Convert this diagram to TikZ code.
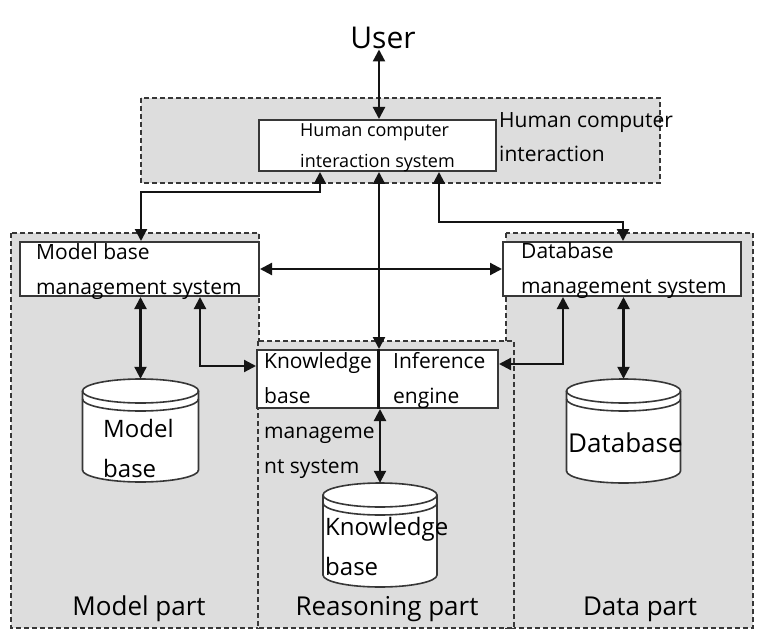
\documentclass[tikz,border=0pt]{standalone}
\usepackage{fontspec}
\setmainfont{Open Sans}
\usetikzlibrary{arrows.meta,calc}
\definecolor{regfill}{RGB}{221,221,221}
\definecolor{dashc}{RGB}{55,55,55}
\definecolor{linec}{RGB}{20,20,20}
\newcommand\fs[1]{\fontsize{#1}{#1}\selectfont}
\newcommand\drawcyl[4]{%
 \fill[white] ({#1-#4},{-#2}) -- ({#1-#4},{-#3}) arc[start angle=180,end angle=360,x radius=#4,y radius=12] -- ({#1+#4},{-#2}) arc[start angle=0,end angle=180,x radius=#4,y radius=12] -- cycle;
 \draw[cylline] (#1,{-#2}) ellipse[x radius=#4,y radius=12];
 \draw[cylline] ({#1-#4},{-#2}) -- ({#1-#4},{-#3}) arc[start angle=180,end angle=360,x radius=#4,y radius=12] -- ({#1+#4},{-#2});
 \draw[cylline] ({#1-#4},{-#2-8}) arc[start angle=180,end angle=360,x radius=#4,y radius=12];
}
\begin{document}
\begin{tikzpicture}[x=1pt,y=1pt,
  region/.style={fill=regfill, draw=dashc, line width=1.6pt, dash pattern=on 5pt off 3pt},
  box/.style={draw=linec!85, fill=white, line width=2pt, inner sep=0pt},
  cylline/.style={draw=linec!85, line width=1.6pt},
  cylnode/.style={inner sep=0pt, minimum height=104pt},
  lbl/.style={anchor=base west, inner sep=0pt, text=black},
  arr/.style={line width=2.2pt, draw=linec, {Triangle[width=12pt,length=12pt]}-{Triangle[width=12pt,length=12pt]}}]
\useasboundingbox (0,0) rectangle (768,-639);
\fill[white] (0,0) rectangle (768,-639);

% regions
\draw[region] (141,-98) rectangle (660,-183);
\draw[region] (506,-233) rectangle (753,-628);
\draw[region] (11,-233) rectangle (259,-628);
\draw[region] (258,-341) rectangle (514,-628);

% boxes
\node[box, minimum width=237pt, minimum height=51pt] (hci) at (377.5,-145.5) {};
\node[box, minimum width=239pt, minimum height=54pt] (mbms) at (139.5,-269) {};
\node[box, minimum width=238pt, minimum height=54pt] (dbms) at (622,-269) {};
\node[box, minimum width=241pt, minimum height=58pt] (kie) at (377.5,-379) {};
\coordinate (cdiv) at (378.5,0);
\draw[line width=3pt, draw=linec] (kie.north -| cdiv) -- (kie.south -| cdiv);

% cylinders
\drawcyl{140.5}{391}{470}{58}
\drawcyl{380}{495}{575}{57}
\drawcyl{623.5}{391}{471}{57}
\node[cylnode, minimum width=116pt] (mbase) at (140.5,-431) {};
\node[cylnode, minimum width=114pt] (kbase) at (380,-535) {};
\node[cylnode, minimum width=114pt] (dbase) at (623.5,-431) {};

% text
\node[anchor=base, inner sep=0pt] (user) at (383,-49) {\fs{30}User};
\node[lbl] (h1) at (300,-137) {\fs{18}Human computer};
\node[lbl] (h2) at (300,-168) {\fs{18}interaction system};
\node[lbl] (r1) at (499,-128) {\fs{21}Human computer};
\node[lbl] (r2) at (499,-162) {\fs{21}interaction};
\node[lbl] (m1) at (36,-259) {\fs{21}Model base};
\node[lbl] (m2) at (36,-294) {\fs{21}management system};
\node[lbl] (d1) at (521,-258) {\fs{21}Database};
\node[lbl] (d2) at (521,-293) {\fs{21}management system};
\node[lbl] (k1) at (264,-368) {\fs{21}Knowledge};
\node[lbl] (k2) at (264,-403) {\fs{21}base};
\node[lbl] (k3) at (264,-438) {\fs{21}manageme};
\node[lbl] (k4) at (264,-473) {\fs{21}nt system};
\node[lbl] (i1) at (393,-368) {\fs{21}Inference};
\node[lbl] (i2) at (393,-403) {\fs{21}engine};
\node[lbl] (mb1) at (103,-437) {\fs{24}Model};
\node[lbl] (mb2) at (103,-477) {\fs{24}base};
\node[lbl] (kb1) at (325,-535) {\fs{24}Knowledge};
\node[lbl] (kb2) at (325,-575) {\fs{24}base};
\node[lbl] (db1) at (568,-452) {\fs{26}Database};
\node[anchor=base, inner sep=0pt] (p1) at (139,-615) {\fs{26}Model part};
\node[anchor=base, inner sep=0pt] (p2) at (387,-615) {\fs{26}Reasoning part};
\node[anchor=base, inner sep=0pt] (p3) at (640,-615) {\fs{26}Data part};

% connector helper coordinates
\coordinate (c320) at (320,0);
\coordinate (c379) at (379,0);
\coordinate (c439) at (439,0);
\coordinate (c200) at (200,0);
\coordinate (c563) at (563,0);
\coordinate (j2) at (141,-192);
\coordinate (j4) at (623,-222);
\coordinate (j7) at (0,-366);
\coordinate (j8) at (0,-364);

% connectors
\draw[arr] (user.south -| c379) -- (hci.north -| c379);
\draw[arr] (hci.south -| c320) |- (j2) -- (mbms.north -| j2);
\draw[arr] (hci.south -| c379) -- (kie.north -| c379);
\draw[arr] (hci.south -| c439) |- (j4) -- (dbms.north -| j4);
\draw[arr] (mbms.east) -- (dbms.west);
\draw[arr] (mbms.south -| mbase.north) -- (mbase.north);
\draw[arr] (mbms.south -| c200) |- (kie.west |- j7);
\draw[arr] (dbms.south -| c563) |- (kie.east |- j8);
\draw[arr] (dbms.south -| dbase.north) -- (dbase.north);
\draw[arr] (kie.south -| kbase.north) -- (kbase.north);
\end{tikzpicture}
\end{document}
